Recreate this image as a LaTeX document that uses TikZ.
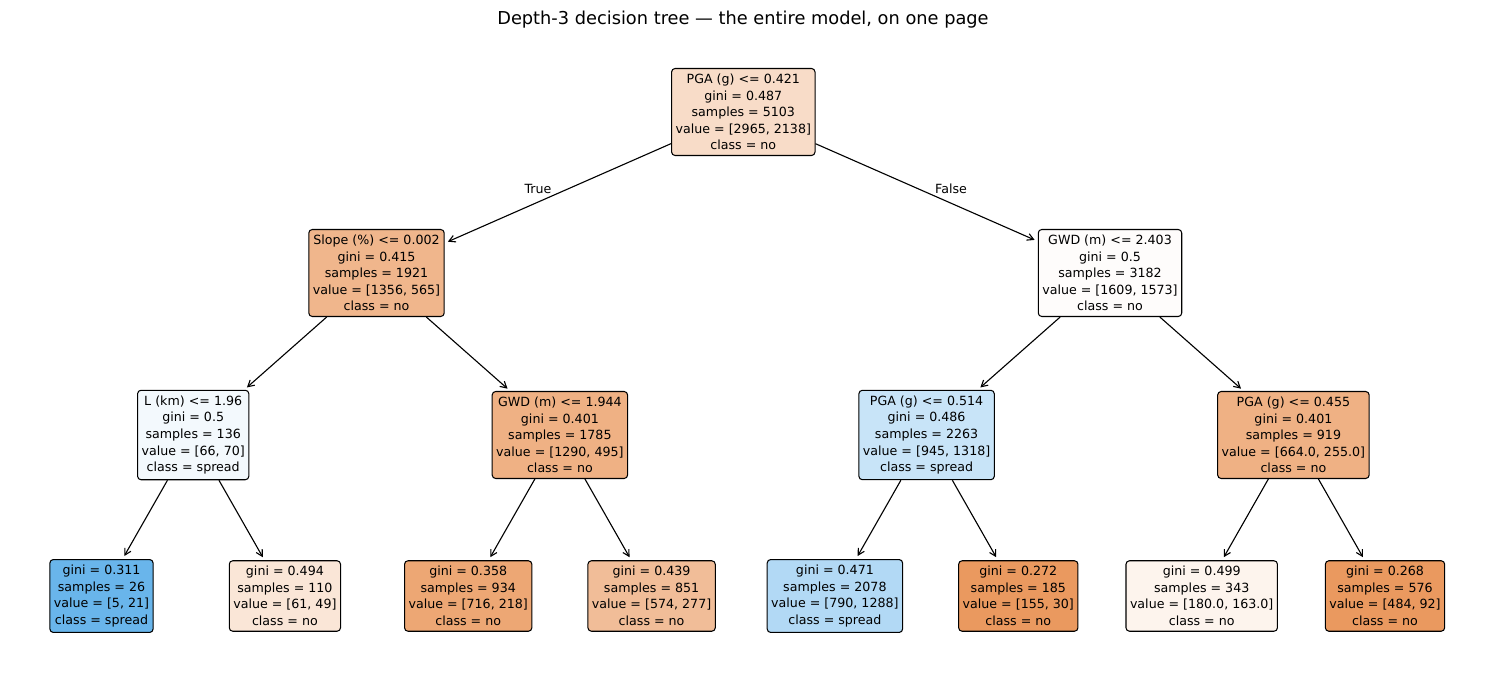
\documentclass[tikz,border=0pt]{standalone}
\usepackage{fontspec}
\setmainfont{DejaVu Sans}
\usetikzlibrary{arrows.meta}
\definecolor{clsno}{RGB}{229,129,57}
\definecolor{clsspread}{RGB}{57,157,229}
\begin{document}
\begin{tikzpicture}[x=0.72pt, y=-0.72pt,
	box/.style={draw, rounded corners=2.5pt, line width=0.75pt, align=center, inner xsep=2.9pt, inner ysep=4pt, font=\fontsize{9.1}{11.9}\selectfont},
	edge/.style={-{Straight Barb[length=4.5pt, width=5pt]}, line width=0.8pt, shorten >=2.5pt},
	lbl/.style={font=\fontsize{9.1}{11.9}\selectfont}]
	\useasboundingbox (0,0) rectangle (1487,687);
	\node[font=\fontsize{12.8}{15}\selectfont, anchor=base] (title) at (743,25) {Depth-3 decision tree — the entire model, on one page};
	
	\node[box, fill=clsno!28] (root) at (743.3,112) {PGA (g) <= 0.421\\gini = 0.487\\samples = 5103\\value = [2965, 2138]\\class = no};
	
	\node[box, fill=clsno!58] (slope) at (376.5,273) {Slope (\%) <= 0.002\\gini = 0.415\\samples = 1921\\value = [1356, 565]\\class = no};
	\node[box, fill=clsno!2] (gwdA) at (1110,273) {GWD (m) <= 2.403\\gini = 0.5\\samples = 3182\\value = [1609, 1573]\\class = no};
	
	\node[box, fill=clsspread!6] (lkm) at (193.2,435) {L (km) <= 1.96\\gini = 0.5\\samples = 136\\value = [66, 70]\\class = spread};
	\node[box, fill=clsno!62] (gwdB) at (559.9,435) {GWD (m) <= 1.944\\gini = 0.401\\samples = 1785\\value = [1290, 495]\\class = no};
	\node[box, fill=clsspread!28] (pgaA) at (926.6,435) {PGA (g) <= 0.514\\gini = 0.486\\samples = 2263\\value = [945, 1318]\\class = spread};
	\node[box, fill=clsno!62] (pgaB) at (1293.4,435) {PGA (g) <= 0.455\\gini = 0.401\\samples = 919\\value = [664.0, 255.0]\\class = no};
	
	\node[box, fill=clsspread!76] (leafA) at (101.5,596) {gini = 0.311\\samples = 26\\value = [5, 21]\\class = spread};
	\node[box, fill=clsno!20] (leafB) at (284.9,596) {gini = 0.494\\samples = 110\\value = [61, 49]\\class = no};
	\node[box, fill=clsno!70] (leafC) at (468.2,596) {gini = 0.358\\samples = 934\\value = [716, 218]\\class = no};
	\node[box, fill=clsno!52] (leafD) at (651.6,596) {gini = 0.439\\samples = 851\\value = [574, 277]\\class = no};
	\node[box, fill=clsspread!39] (leafE) at (834.9,596) {gini = 0.471\\samples = 2078\\value = [790, 1288]\\class = spread};
	\node[box, fill=clsno!81] (leafF) at (1018.3,596) {gini = 0.272\\samples = 185\\value = [155, 30]\\class = no};
	\node[box, fill=clsno!9] (leafG) at (1201.7,596) {gini = 0.499\\samples = 343\\value = [180.0, 163.0]\\class = no};
	\node[box, fill=clsno!81] (leafH) at (1385,596) {gini = 0.268\\samples = 576\\value = [484, 92]\\class = no};
	
	\draw[edge] (root) -- (slope);
	\draw[edge] (root) -- (gwdA);
	\node[lbl] (truelbl) at (538,189) {True};
	\node[lbl] (falselbl) at (951,189) {False};
	
	\draw[edge] (slope) -- (lkm);
	\draw[edge] (slope) -- (gwdB);
	\draw[edge] (gwdA) -- (pgaA);
	\draw[edge] (gwdA) -- (pgaB);
	
	\draw[edge] (lkm) -- (leafA);
	\draw[edge] (lkm) -- (leafB);
	\draw[edge] (gwdB) -- (leafC);
	\draw[edge] (gwdB) -- (leafD);
	\draw[edge] (pgaA) -- (leafE);
	\draw[edge] (pgaA) -- (leafF);
	\draw[edge] (pgaB) -- (leafG);
	\draw[edge] (pgaB) -- (leafH);
\end{tikzpicture}
\end{document}
